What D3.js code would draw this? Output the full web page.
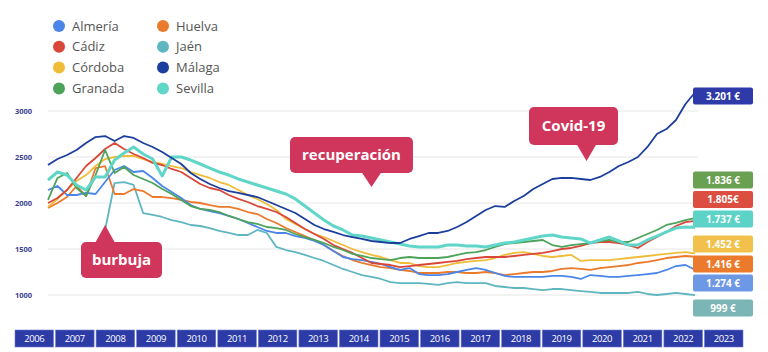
<!DOCTYPE html>
<html><head><meta charset="utf-8">
<script src="https://cdn.jsdelivr.net/npm/d3@7"></script>
<style>
html,body{margin:0;padding:0;background:#fff;}
svg{display:block;font-family:"Open Sans",sans-serif;}
</style></head>
<body><svg id="c" width="768" height="352"></svg>
<script>
// ---- DATA ----
const provinces = ["Almería","Cádiz","Córdoba","Granada","Huelva","Jaén","Málaga","Sevilla"];
const years = [2006,2007,2008,2009,2010,2011,2012,2013,2014,2015,2016,2017,2018,2019,2020,2021,2022,2023];
const yTicks = [1000,1500,2000,2500,3000];
// quarterly observations, 2006 Q1 ... 2023 Q1
const quarters = d3.range(69).map(i => 2006 + i / 4);

const almeria = [2141,2185,2087,2087,2109,2098,2228,2359,2402,2337,2348,2272,2185,2120,2054,1978,1935,1913,1891,1859,1826,1783,1739,1696,1674,1674,1641,1620,1587,1543,1478,1413,1391,1380,1359,1337,1304,1272,1293,1228,1217,1217,1228,1250,1272,1293,1272,1239,1207,1196,1196,1196,1196,1207,1207,1196,1174,1217,1207,1196,1196,1207,1217,1228,1239,1272,1315,1326,1274];
const cadiz = [2000,2054,2141,2272,2402,2489,2587,2652,2587,2533,2489,2435,2413,2370,2337,2272,2207,2163,2141,2087,2044,2011,1967,1935,1902,1848,1783,1717,1663,1609,1543,1500,1457,1402,1348,1337,1326,1304,1315,1326,1337,1348,1359,1370,1391,1402,1413,1413,1413,1424,1435,1446,1457,1478,1500,1511,1533,1565,1576,1576,1565,1543,1511,1576,1630,1685,1750,1793,1805];
const cordoba = [1957,2044,2141,2239,2304,2402,2478,2500,2511,2511,2478,2446,2424,2402,2380,2337,2304,2272,2228,2196,2141,2087,2044,1989,1924,1826,1772,1717,1663,1630,1587,1543,1500,1467,1435,1413,1380,1348,1348,1315,1304,1304,1326,1348,1359,1370,1380,1402,1435,1457,1467,1446,1424,1413,1424,1435,1370,1380,1380,1380,1391,1402,1413,1424,1435,1446,1457,1467,1452];
const granada = [2033,2272,2326,2163,2076,2304,2576,2326,2391,2304,2261,2217,2152,2098,2033,1967,1935,1924,1902,1859,1826,1793,1772,1739,1728,1707,1663,1630,1598,1565,1522,1489,1446,1424,1402,1391,1380,1402,1413,1402,1402,1402,1413,1435,1457,1467,1489,1522,1554,1565,1576,1587,1598,1543,1522,1543,1554,1565,1587,1598,1576,1576,1620,1663,1707,1761,1783,1815,1836];
const huelva = [1946,2000,2065,2185,2076,2380,2400,2098,2098,2152,2130,2065,2065,2054,2033,2011,2000,1978,1957,1957,1935,1902,1880,1826,1783,1728,1685,1641,1598,1543,1478,1424,1380,1348,1326,1304,1293,1272,1261,1239,1239,1239,1250,1250,1239,1239,1250,1239,1217,1228,1239,1250,1250,1261,1283,1293,1283,1272,1293,1304,1315,1326,1348,1359,1380,1402,1413,1424,1416];
const jaen = [null,null,null,null,null,null,1707,2217,2228,2196,1891,1870,1848,1815,1793,1761,1750,1728,1696,1674,1652,1652,1707,1674,1522,1489,1467,1435,1402,1370,1326,1283,1250,1217,1196,1174,1141,1130,1130,1130,1120,1109,1130,1141,1130,1130,1130,1098,1087,1076,1076,1065,1054,1065,1065,1054,1043,1033,1022,1022,1022,1022,1033,1011,1000,1011,1022,1011,999];
const malaga = [2413,2478,2522,2576,2652,2717,2728,2674,2728,2707,2652,2609,2554,2489,2424,2326,2261,2207,2163,2130,2109,2087,2065,2022,1978,1935,1891,1826,1761,1717,1685,1652,1630,1609,1587,1576,1565,1565,1609,1641,1674,1674,1696,1739,1793,1859,1924,1967,1957,2022,2076,2152,2207,2261,2272,2272,2261,2250,2283,2337,2402,2446,2500,2609,2750,2804,2902,3076,3201];
const sevilla = [2250,2337,2304,2196,2141,2283,2283,2467,2543,2609,2533,2478,2293,2500,2500,2467,2424,2380,2337,2304,2261,2228,2196,2163,2130,2098,2044,1967,1891,1815,1750,1707,1652,1641,1620,1598,1576,1554,1533,1522,1522,1522,1543,1543,1533,1533,1522,1543,1565,1576,1598,1620,1641,1652,1630,1620,1609,1565,1598,1630,1587,1543,1543,1598,1641,1685,1728,1739,1737];

const seriesValues = [almeria,cadiz,cordoba,granada,huelva,jaen,malaga,sevilla];
const colors = ["#4a86e8","#d9473b","#f0bd3a","#4ea35a","#ec7a2c","#5fb6c0","#1c3f9e","#5fd6c8"];
const labelColors = ["#6d98e6","#dc4f40","#f2c14b","#6aa051","#ec7a2c","#7bb5b5","#2e3aa8","#5dd3c8"];
const finalText = ["1.274 €","1.805€","1.452 €","1.836 €","1.416 €","999 €","3.201 €","1.737 €"];
const annotations = [
  {text:"burbuja", year:2007.5},
  {text:"recuperación", year:2014.5},
  {text:"Covid-19", year:2020.15}
];

// ---- LAYOUT ----
const svg = d3.select("#c");
const x = d3.scaleLinear().domain([2006, 2023]).range([48, 695]);
const y = d3.scaleLinear().domain([1000, 3000]).range([295, 111]);
const xb = d3.scaleBand().domain(years).range([15, 743]).paddingInner(0.05);

// grid
svg.append("g").selectAll("line").data(yTicks).join("line")
  .attr("x1", 48).attr("x2", 698)
  .attr("y1", d => y(d)).attr("y2", d => y(d))
  .attr("stroke", "#e6e6e6").attr("stroke-width", 1);
svg.append("g").selectAll("text").data(yTicks).join("text")
  .attr("x", 15).attr("y", d => y(d)).attr("dy", "0.35em")
  .attr("font-size", 7.5).attr("font-weight", 700).attr("fill", "#3b3f8e")
  .text(d => d);

// lines
const order = [5,4,0,2,1,3,7,6];
const line = d3.line().defined(d => d[1] != null).x(d => x(d[0])).y(d => y(d[1]));
svg.append("g").selectAll("path").data(order).join("path")
  .attr("d", i => line(quarters.map((q, k) => [q, seriesValues[i][k]])))
  .attr("fill", "none").attr("stroke", i => colors[i])
  .attr("stroke-width", i => i === 7 ? 3 : 1.8)
  .attr("stroke-linejoin", "round");

// final value labels (stacked layout)
const labelCenters = {6:96, 3:180, 1:199.5, 7:219, 2:244, 4:264, 0:283, 5:308};
const lg = svg.append("g").selectAll("g").data(d3.range(8)).join("g")
  .attr("transform", i => `translate(693,${labelCenters[i]})`);
lg.append("rect").attr("x", 0).attr("y", -8.5).attr("width", 60).attr("height", 17)
  .attr("rx", 2).attr("fill", i => labelColors[i]);
lg.append("text").attr("x", 30).attr("dy", "0.35em").attr("text-anchor", "middle")
  .attr("font-size", 10).attr("font-weight", 700).attr("fill", "#fff")
  .text(i => finalText[i]);

// annotations
const anno = [
  {box:[81,242,81,36], tip:[105,225], dir:"up"},
  {box:[290,137,123,36], tip:[378,187], dir:"down"},
  {box:[529,107,89,38], tip:[594,161], dir:"down"}
];
annotations.forEach((a, k) => {
  const L = anno[k];
  const g = svg.append("g");
  const [bx, by, bw, bh] = L.box;
  const tx = x(a.year);
  const tipY = L.tip[1];
  g.append("rect").attr("x", bx).attr("y", by).attr("width", bw).attr("height", bh)
    .attr("rx", 5).attr("fill", "#d0355b");
  const baseY = L.dir === "up" ? by + 1 : by + bh - 1;
  g.append("path").attr("d", `M${tx - 10},${baseY}L${tx},${tipY}L${tx + 10},${baseY}Z`).attr("fill", "#d0355b");
  g.append("text").attr("x", bx + bw / 2).attr("y", by + bh / 2).attr("dy", "0.35em")
    .attr("text-anchor", "middle").attr("font-size", 15).attr("font-weight", 700)
    .attr("fill", "#fff").text(a.text);
});

// legend
const leg = svg.append("g").selectAll("g").data(provinces).join("g")
  .attr("transform", (d, i) => `translate(${i < 4 ? 59 : 163},${26 + (i % 4) * 20.8})`);
leg.append("circle").attr("r", 6).attr("fill", (d, i) => colors[i]);
leg.append("text").attr("x", 13).attr("dy", "0.35em").attr("font-size", 13)
  .attr("fill", "#555").text(d => d);

// year boxes
const yb = svg.append("g").selectAll("g").data(years).join("g")
  .attr("transform", d => `translate(${xb(d)},330)`);
yb.append("rect").attr("width", xb.bandwidth()).attr("height", 17)
  .attr("fill", "#2c3ba5").attr("stroke", "#6f7bc9").attr("stroke-width", 0.6);
yb.append("text").attr("x", xb.bandwidth() / 2).attr("y", 8.5).attr("dy", "0.35em")
  .attr("text-anchor", "middle").attr("font-size", 9.5).attr("fill", "#fff")
  .attr("letter-spacing", -0.4).text(d => d);
</script></body></html>
